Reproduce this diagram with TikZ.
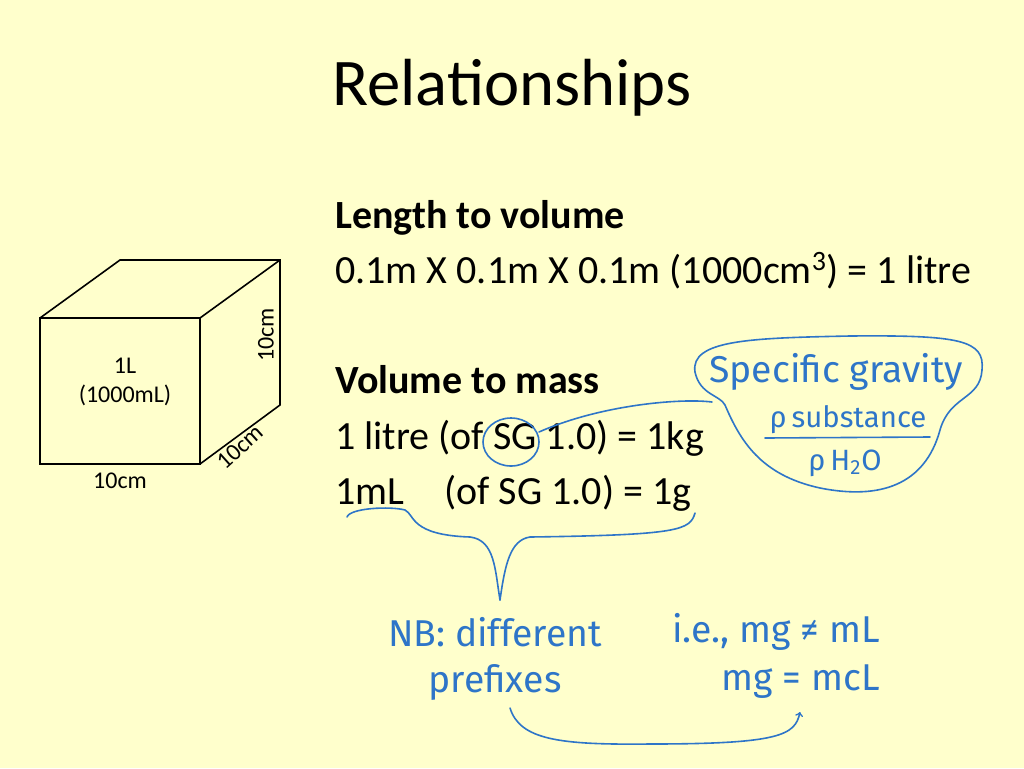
\documentclass[tikz,border=0pt]{standalone}
\usepackage{fontspec}
\setmainfont{Carlito}
\newfontfamily\hand{Fira Sans}
\definecolor{bg}{HTML}{FFFFCC}
\definecolor{ink}{HTML}{2E75C8}
\begin{document}
\begin{tikzpicture}[x=0.75pt,y=-0.75pt,
  body/.style={anchor=base west,inner sep=0pt,font=\fontsize{30}{34}\selectfont},
  small/.style={inner sep=1pt,font=\fontsize{18}{21}\selectfont},
  hw/.style={text=ink,inner sep=0pt,font=\hand\fontsize{28}{32}\selectfont},
  pen/.style={draw=ink,line width=1.2pt,line cap=round}]
\fill[bg] (0,0) rectangle (1024,768);
\useasboundingbox (0,0) rectangle (1024,768);
\node[font=\fontsize{50}{56}\selectfont] (title) at (512,88) {Relationships};
% cube
\draw[line width=1.2pt] (40,318) rectangle (200,464);
\draw[line width=1.2pt] (40,318) -- (120,260) -- (280,260) -- (280,405) -- (200,464);
\draw[line width=1.2pt] (200,318) -- (280,260);
\node[small,rotate=90] (h) at (266,335) {10cm};
\node[small,rotate=42] (d) at (240,447) {10cm};
\node[small] (w) at (120,481) {10cm};
\node[small] (l1) at (125,366) {1L};
\node[small] (l2) at (125,395) {(1000mL)};
% text
\node[body,font=\bfseries\fontsize{30}{34}\selectfont] (t1) at (335,228) {Length to volume};
\node[body] (t2) at (335,283) {0.1m X 0.1m X 0.1m (1000cm\textsuperscript{3}) = 1 litre};
\node[body,font=\bfseries\fontsize{30}{34}\selectfont] (t3) at (335,393) {Volume to mass};
\node[body] (t4) at (335,449) {1 litre (of SG 1.0) = 1kg};
\node[body] (t5) at (335,504) {1mL\quad(of SG 1.0) = 1g};
% handwriting
\node[hw] (sg) at (836,372) {Specific gravity};
\node[hw,font=\hand\fontsize{22}{26}\selectfont] (num) at (848,420) {ρ\,substance};
\node[hw,font=\hand\fontsize{22}{26}\selectfont] (den) at (845,463) {ρ\,H\textsubscript{2}O};
\draw[pen] (765,438) -- (930,437);
\draw[pen] (695,372) .. controls (690,340) and (750,338) .. (850,336)
  .. controls (960,335) and (985,340) .. (982,370)
  .. controls (980,400) and (950,395) .. (940,430)
  .. controls (925,485) and (880,500) .. (820,488)
  .. controls (760,475) and (740,440) .. (725,405)
  .. controls (720,395) and (700,395) .. (695,372);
\draw[pen] (511,442) ellipse (28 and 24);
\draw[pen] (539,432) .. controls (600,405) and (680,398) .. (712,402);
\draw[pen] (347,517) .. controls (350,508) and (390,506) .. (405,510)
  .. controls (415,515) and (410,535) .. (470,537)
  .. controls (495,540) and (495,570) .. (500,600);
\draw[pen] (500,600) .. controls (505,565) and (510,540) .. (530,537)
  .. controls (680,535) and (690,530) .. (695,513);
\node[hw] (nb1) at (495,632) {NB: different};
\node[hw] (nb2) at (495,682) {prefixes};
\node[hw,anchor=east] (ie1) at (880,632) {i.e., mg ≠ mL};
\node[hw,anchor=east] (ie2) at (880,682) {mg = mcL};
\draw[pen,->] (510,708) .. controls (520,740) and (560,745) .. (650,744)
  .. controls (780,744) and (795,735) .. (800,712);
\end{tikzpicture}
\end{document}
